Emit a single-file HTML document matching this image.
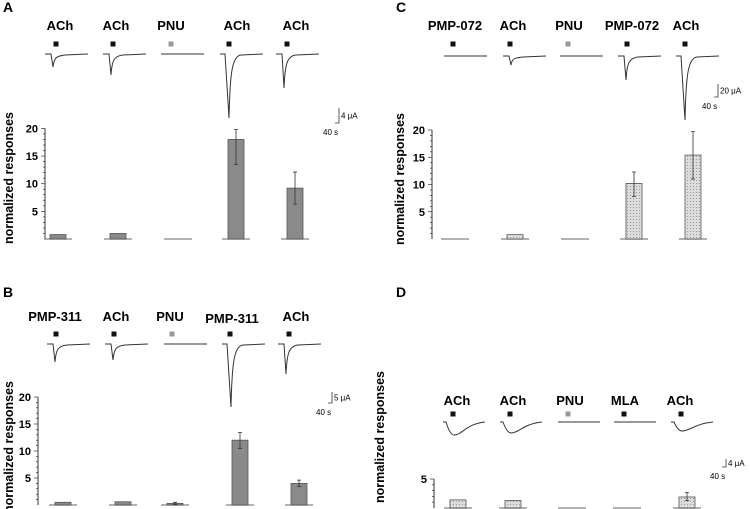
<!DOCTYPE html>
<html><head><meta charset="utf-8"><style>
body{margin:0;background:#fff}
svg{display:block;font-family:"Liberation Sans",Arial,sans-serif}
.lbl{font-weight:bold;font-size:13px;text-anchor:middle}
.tk{font-weight:bold;font-size:11px;text-anchor:end}
.yl{font-weight:bold;font-size:12.5px;text-anchor:middle}
.sc{font-size:8px}
</style></head><body>
<svg id="fig" width="750" height="509" viewBox="0 0 750 509">
<defs><pattern id="dots" width="3" height="3" patternUnits="userSpaceOnUse"><rect width="3" height="3" fill="#dcdcdc"/><rect width="1" height="1" fill="#999"/></pattern></defs>
</svg>
<script>
// Panel A
const catsA=["ACh","ACh","PNU","ACh","ACh"];
const valsA=[0.8,1.0,0,18,9.2];
const errLoA=[0,0,0,13.5,6.3];
const errHiA=[0,0,0,19.8,12.1];
const ampA=[13,21,0,64,34];
// Panel B
const catsB=["PMP-311","ACh","PNU","PMP-311","ACh"];
const valsB=[0.5,0.6,0.3,12,4];
const errLoB=[0,0,0.1,10.5,3.4];
const errHiB=[0,0,0.5,13.4,4.6];
const ampB=[18,16,0,63,30];
// Panel C
const catsC=["PMP-072","ACh","PNU","PMP-072","ACh"];
const valsC=[0,0.8,0,10.2,15.4];
const errLoC=[0,0,0,7.8,11];
const errHiC=[0,0,0,12.3,19.7];
const ampC=[0,9,0,24,64];
// Panel D
const catsD=["ACh","ACh","PNU","MLA","ACh"];
const valsD=[1.4,1.3,0,0,1.9];
const errLoD=[0,0,0,0,1.3];
const errHiD=[0,0,0,0,2.7];
const ampD=[13,11,0,0,9];
const yTicksMain=[5,10,15,20];
const yTicksD=[5];

const svg=document.getElementById('fig');
const NS='http://www.w3.org/2000/svg';
function mk(tag,attrs,parent,txt){const e=document.createElementNS(NS,tag);for(const k in attrs)e.setAttribute(k,attrs[k]);if(txt!==undefined)e.textContent=txt;(parent||svg).appendChild(e);return e;}

function panel(p){
  const g=mk('g',{});
  
  
  const L=mk('text',{x:p.letterX,y:p.letterY,'font-weight':'bold','font-size':'14'},g,p.id);
  
  
  const y=v=>p.y0-v*p.k;
  // labels, markers, traces
  p.cats.forEach((c,i)=>{
    const t=mk('text',{class:'lbl',x:p.labelX[i],y:p.labelY+(p.labelDy?p.labelDy[i]:0)},g,c);
    
    
    const m=mk('rect',{x:p.markX[i]-2.5,y:p.markY-2.5,width:5,height:5,fill:c==='PNU'?'#999':'#111'},g);
    
    
    const x0=p.trX[i],x1=x0+p.trW,b=p.trY,a=p.amp[i];
    let d;
    if(a===0){d=`M${x0},${b} L${x1},${b}`;}
    else if(p.slow){const on=x0+3,tx=on+8;d=`M${x0},${b} L${on},${b} Q${on+4},${b+a} ${tx},${b+a} C${tx+8},${b+a} ${tx+12},${b+2} ${x1},${b}`;}
    else{const on=x0+(a>40?5:6),tx=on+(a>40?4:2);d=`M${x0},${b} L${on},${b} L${tx},${b+a} C${tx+1},${b+a*0.3} ${tx+3},${b+2} ${tx+12},${b+1} L${x1},${b}`;}
    const tr=mk('path',{d:d,fill:'none',stroke:'#333','stroke-width':1},g);
    
    
  });
  // scale bar
  const s=p.sb;
  const sbp=mk('path',{d:`M${s.x-4},${s.y2} L${s.x},${s.y2} L${s.x},${s.y1}`,fill:'none',stroke:'#333','stroke-width':0.8},g);
  
  
  const st1=mk('text',{class:'sc',x:s.x+2,y:(s.y1+s.y2)/2+3},g,s.amp);
  
  
  const st2=mk('text',{class:'sc',x:s.x-16,y:s.y2+12},g,'40  s');
  
  
  // y axis
  const top=y(p.ticks[p.ticks.length-1]);
  const ax=mk('line',{x1:p.ax,y1:top,x2:p.ax,y2:p.y0,stroke:'#333','stroke-width':1},g);
  
  
  for(let v=1;v<=p.ticks[p.ticks.length-1];v++){
    const big=p.ticks.includes(v);
    mk('line',{x1:p.ax-(big?4:2),y1:y(v),x2:p.ax,y2:y(v),stroke:'#333','stroke-width':0.7},g);
  }
  p.ticks.forEach(v=>{const t=mk('text',{class:'tk',x:p.ax-7,y:y(v)+4},g,v);
    
    });
  const yl=mk('text',{class:'yl',transform:`translate(${p.ylX},${p.ylY}) rotate(-90)`},g,'normalized responses');
  
  
  // bars
  p.vals.forEach((v,i)=>{
    const cx=p.barX[i];
    const bl=mk('line',{x1:cx-14,y1:p.y0,x2:cx+14,y2:p.y0,stroke:'#999','stroke-width':1.5},g);
    
    
    if(v>0){
      const r=mk('rect',{x:cx-8,y:y(v),width:16,height:p.y0-y(v),fill:p.fill,stroke:'#555','stroke-width':0.8},g);
      
      
    }
    if(p.hi[i]>0){
      const e=mk('path',{d:`M${cx},${y(p.lo[i])} L${cx},${y(p.hi[i])} M${cx-2},${y(p.lo[i])} L${cx+2},${y(p.lo[i])} M${cx-2},${y(p.hi[i])} L${cx+2},${y(p.hi[i])}`,stroke:'#333','stroke-width':0.8,fill:'none'},g);
      
      
    }
  });
}

panel({id:'A',letterX:3,letterY:12,cats:catsA,vals:valsA,lo:errLoA,hi:errHiA,amp:ampA,
 labelX:[60,116,171,237,296],labelY:30,markX:[56,113,171,229,287],markY:44,
 trX:[45,103,161,220,276],trW:43,trY:54,ax:45,y0:239,k:5.53,ticks:yTicksMain,
 barX:[58,118,178,236,295],fill:'#8a8a8a',ylX:13,ylY:178,sb:{x:339,y1:108,y2:123,amp:'4 μA'}});
panel({id:'B',letterX:3,letterY:297,cats:catsB,vals:valsB,lo:errLoB,hi:errHiB,amp:ampB,
 labelX:[55,116,170,232,296],labelY:321,labelDy:[0,0,0,2,0],markX:[56,114,172,230,289],markY:334,
 trX:[47,105,164,222,278],trW:43,trY:344,ax:38,y0:505,k:5.4,ticks:yTicksMain,
 barX:[63,123,175,240,299],fill:'#8a8a8a',ylX:13,ylY:447,sb:{x:332,y1:392,y2:403,amp:'5 μA'}});
panel({id:'C',letterX:396,letterY:12,cats:catsC,vals:valsC,lo:errLoC,hi:errHiC,amp:ampC,
 labelX:[455,513,569,632,686],labelY:30,markX:[453,510,568,627,685],markY:44,
 trX:[444,503,560,618,676],trW:43,trY:56,ax:432,y0:239,k:5.45,ticks:yTicksMain,
 barX:[455,515,575,634,693],fill:'url(#dots)',ylX:404,ylY:179,sb:{x:718,y1:84,y2:97,amp:'20 μA'}});
panel({id:'D',letterX:396,letterY:297,cats:catsD,vals:valsD,lo:errLoD,hi:errHiD,amp:ampD,slow:true,
 labelX:[457,513,570,625,680],labelY:405,markX:[453,510,568,624,681],markY:414,
 trX:[443,500,558,614,671],trW:42,trY:422,ax:434,y0:508,k:5.8,ticks:yTicksD,
 barX:[458,513,572,627,687],fill:'url(#dots)',ylX:384,ylY:437,sb:{x:726,y1:459,y2:467,amp:'4 μA'}});
</script>
</body></html>
